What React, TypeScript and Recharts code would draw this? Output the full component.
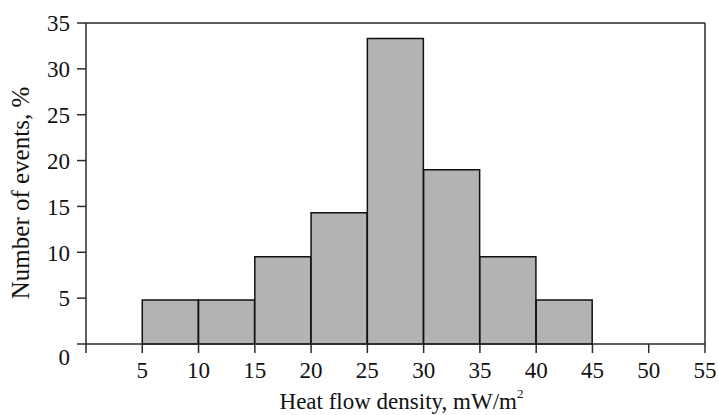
import React from 'react';
import { ComposedChart, Bar, XAxis, YAxis } from 'recharts';

const binStarts = [5, 10, 15, 20, 25, 30, 35, 40];
const binEnds = [10, 15, 20, 25, 30, 35, 40, 45];
const percents = [4.8, 4.8, 9.5, 14.3, 33.3, 19.0, 9.5, 4.8];
const xTicks = [0, 5, 10, 15, 20, 25, 30, 35, 40, 45, 50, 55];
const yTicks = [0, 5, 10, 15, 20, 25, 30, 35];
const topTicks = [5, 10, 15, 20, 25, 30, 35, 40, 45, 50];
const rightTicks = [5, 10, 15, 20, 25, 30];

const data = binStarts.map((s, i) => ({ mid: (s + binEnds[i]) / 2, value: percents[i] }));

const FONT = '"Liberation Serif", "Times New Roman", serif';
const AX = '#2a2a2a';

const YTick = (props: any) => {
  const { x, y, payload } = props;
  const shift = payload.value === 0 ? 16 : 3;
  return (
    <text x={x} y={y + shift} textAnchor="end" dominantBaseline="middle" fontFamily={FONT} fontSize={23} fill="#111">
      {payload.value}
    </text>
  );
};

export default function App() {
  return (
    <div style={{ position: 'absolute', left: 0, top: 0, background: '#fff' }}>
      <ComposedChart width={718} height={415} data={data} margin={{ top: 0, right: 0, bottom: 21, left: 0 }} barCategoryGap={0} barGap={0}>
        <XAxis
          xAxisId="b"
          type="number"
          dataKey="mid"
          domain={[0, 55]}
          ticks={xTicks}
          allowDataOverflow
          height={50}
          tickSize={9}
          tickMargin={9}
          tickFormatter={(v: number) => (v === 0 ? '' : String(v))}
          tick={{ fontFamily: FONT, fontSize: 23, fill: '#111' }}
          axisLine={{ stroke: AX, strokeWidth: 1.5 }}
          tickLine={{ stroke: AX, strokeWidth: 1.5 }}
          label={(p: any) => {
            const vb = p.viewBox;
            const cx = vb.x + vb.width / 2 + 6;
            return (
              <text x={cx} y={409} textAnchor="middle" fontFamily={FONT} fontSize={23} fill="#111">
                Heat flow density, mW/m
                <tspan fontSize={13} dy={-11}>2</tspan>
              </text>
            );
          }}
        />
        <XAxis
          xAxisId="t"
          orientation="top"
          type="number"
          dataKey="mid"
          domain={[0, 55]}
          ticks={topTicks}
          allowDataOverflow
          height={23}
          tickSize={9}
          tick={false}
          axisLine={{ stroke: AX, strokeWidth: 1.5 }}
          tickLine={{ stroke: AX, strokeWidth: 1.5 }}
        />
        <YAxis
          yAxisId="l"
          type="number"
          domain={[0, 35]}
          ticks={yTicks}
          width={86}
          tickSize={9}
          tickMargin={7}
          tick={<YTick />}
          axisLine={{ stroke: AX, strokeWidth: 1.5 }}
          tickLine={{ stroke: AX, strokeWidth: 1.5 }}
          label={() => (
            <text x={23} y={193} transform="rotate(-90 23 193)" textAnchor="middle" dominantBaseline="middle" fontFamily={FONT} fontSize={25} fill="#111">
              Number of events, %
            </text>
          )}
        />
        <YAxis
          yAxisId="r"
          orientation="right"
          type="number"
          domain={[0, 35]}
          ticks={rightTicks}
          width={13}
          tickSize={7}
          tick={false}
          axisLine={{ stroke: AX, strokeWidth: 1.5 }}
          tickLine={{ stroke: AX, strokeWidth: 1.5 }}
        />
        <Bar
          xAxisId="b"
          yAxisId="l"
          dataKey="value"
          fill="#b3b3b3"
          stroke="#111"
          strokeWidth={1.5}
          isAnimationActive={false}
        />
      </ComposedChart>
    </div>
  );
}
